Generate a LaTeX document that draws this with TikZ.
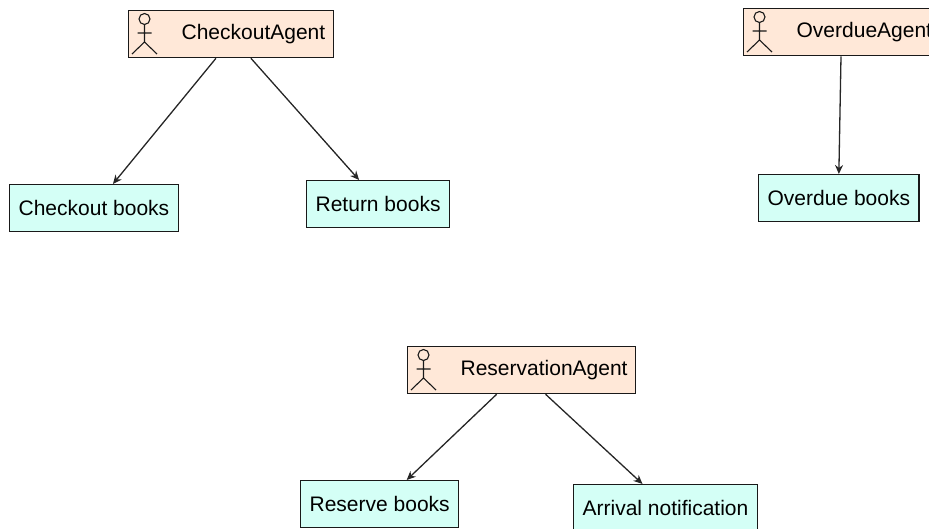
\documentclass[tikz,border=0pt]{standalone}
\usepackage{fontspec}
\usetikzlibrary{arrows.meta}
\setmainfont{Liberation Sans}
\definecolor{agentfill}{HTML}{FFE8D8}
\definecolor{taskfill}{HTML}{D4FFF6}
\newcommand{\actorfig}[1]{%
  \draw[actorline,shift={(#1.north west)}] (16.5,9) circle (5.5)
    (16.5,14.5) -- (16.5,32) (9.5,23) -- (23.5,23)
    (4,44) -- (16.5,32) -- (29,44);}
\begin{document}
\begin{tikzpicture}[x=1pt,y=-1pt,
  actorline/.style={black!90,line width=1.1pt},
  agent/.style={draw=black!90,fill=agentfill,line width=1.3pt,anchor=north west,
    inner xsep=8pt,inner ysep=0pt,minimum height=47pt,font=\fontsize{21}{24}\selectfont},
  task/.style={draw=black!90,fill=taskfill,line width=1.3pt,anchor=north west,
    inner xsep=9pt,inner ysep=0pt,minimum height=47pt,font=\fontsize{21}{24}\selectfont},
  link/.style={-{Stealth[length=9pt,width=8pt]},black!85,line width=1.3pt}]
  \useasboundingbox (0,0) rectangle (929,529);
  \clip (0,0) rectangle (929,529);
  \node[agent] (checkoutAgent) at (128,10) {\hspace{45pt}CheckoutAgent};
  \node[task] (checkoutBooks) at (9,184) {Checkout books};
  \node[task] (returnBooks) at (306,180) {Return books};
  \node[agent] (overdueAgent) at (743,8) {\hspace{45pt}OverdueAgent};
  \node[task] (overdueBooks) at (758,174) {Overdue books};
  \node[agent] (reservationAgent) at (407,346) {\hspace{45pt}ReservationAgent};
  \node[task] (reserveBooks) at (300,480) {Reserve books};
  \node[task] (arrivalNote) at (573,484) {Arrival notification};
  \actorfig{checkoutAgent}
  \actorfig{overdueAgent}
  \actorfig{reservationAgent}
  \path[link] ([xshift=-15pt]checkoutAgent.south) edge ([xshift=19pt]checkoutBooks.north);
  \path[link] ([xshift=20pt]checkoutAgent.south) edge ([xshift=-19pt]returnBooks.north);
  \path[link] (overdueAgent.south west) ++(98,0) edge (overdueBooks.north);
  \path[link] ([xshift=-25pt]reservationAgent.south) edge ([xshift=27pt]reserveBooks.north);
  \path[link] ([xshift=24pt]reservationAgent.south) edge ([xshift=-23pt]arrivalNote.north);
\end{tikzpicture}
\end{document}
